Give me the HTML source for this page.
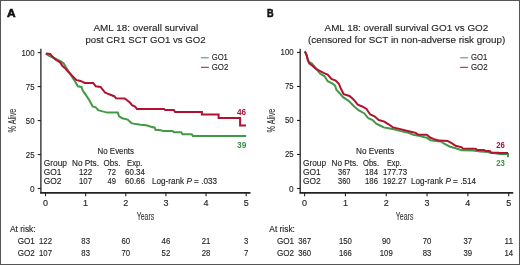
<!DOCTYPE html>
<html><head><meta charset="utf-8"><style>
html,body{margin:0;padding:0;background:#fff;}
svg{display:block;font-family:"Liberation Sans", sans-serif;will-change:transform;}
</style></head><body>
<svg width="520" height="265" viewBox="0 0 520 265">
<rect width="520" height="265" fill="#fff"/>
<rect x="0.5" y="0.5" width="519" height="264" fill="none" stroke="#555" stroke-width="1"/>
<text x="7.00" y="16.70" font-size="11.4" fill="#111" font-weight="bold" textLength="8.60" lengthAdjust="spacingAndGlyphs" stroke="#111" stroke-width="0.6" >A</text>
<text x="267.00" y="16.70" font-size="11.4" fill="#111" font-weight="bold" textLength="6.60" lengthAdjust="spacingAndGlyphs" stroke="#111" stroke-width="0.6" >B</text>
<text x="93.50" y="31.00" font-size="9.7" fill="#262626" font-weight="normal" textLength="104.70" lengthAdjust="spacingAndGlyphs" stroke="#262626" stroke-width="0.14" >AML 18: overall survival</text>
<text x="85.50" y="42.70" font-size="9.7" fill="#262626" font-weight="normal" textLength="120.00" lengthAdjust="spacingAndGlyphs" stroke="#262626" stroke-width="0.14" >post CR1 SCT GO1 vs GO2</text>
<text x="324.60" y="31.00" font-size="9.7" fill="#262626" font-weight="normal" textLength="163.60" lengthAdjust="spacingAndGlyphs" stroke="#262626" stroke-width="0.14" >AML 18: overall survival GO1 vs GO2</text>
<text x="308.00" y="42.70" font-size="9.7" fill="#262626" font-weight="normal" textLength="197.20" lengthAdjust="spacingAndGlyphs" stroke="#262626" stroke-width="0.14" >(censored for SCT in non-adverse risk group)</text>
<line x1="40.9" y1="48.8" x2="40.9" y2="193.60000000000002" stroke="#222" stroke-width="1.3"/>
<line x1="40.3" y1="192.8" x2="250.5" y2="192.8" stroke="#222" stroke-width="1.8"/>
<line x1="37.699999999999996" y1="52.6" x2="40.9" y2="52.6" stroke="#222" stroke-width="1.1"/>
<text x="21.50" y="55.60" font-size="8.7" fill="#262626" font-weight="normal" textLength="13.00" lengthAdjust="spacingAndGlyphs" stroke="#262626" stroke-width="0.14" >100</text>
<line x1="37.699999999999996" y1="86.575" x2="40.9" y2="86.575" stroke="#222" stroke-width="1.1"/>
<text x="25.80" y="89.58" font-size="8.7" fill="#262626" font-weight="normal" textLength="8.70" lengthAdjust="spacingAndGlyphs" stroke="#262626" stroke-width="0.14" >75</text>
<line x1="37.699999999999996" y1="120.55000000000001" x2="40.9" y2="120.55000000000001" stroke="#222" stroke-width="1.1"/>
<text x="25.80" y="123.55" font-size="8.7" fill="#262626" font-weight="normal" textLength="8.70" lengthAdjust="spacingAndGlyphs" stroke="#262626" stroke-width="0.14" >50</text>
<line x1="37.699999999999996" y1="154.525" x2="40.9" y2="154.525" stroke="#222" stroke-width="1.1"/>
<text x="25.80" y="157.53" font-size="8.7" fill="#262626" font-weight="normal" textLength="8.70" lengthAdjust="spacingAndGlyphs" stroke="#262626" stroke-width="0.14" >25</text>
<line x1="37.699999999999996" y1="188.5" x2="40.9" y2="188.5" stroke="#222" stroke-width="1.1"/>
<text x="29.90" y="191.50" font-size="8.7" fill="#262626" font-weight="normal" textLength="4.60" lengthAdjust="spacingAndGlyphs" stroke="#262626" stroke-width="0.14" >0</text>
<line x1="45.5" y1="192.8" x2="45.5" y2="196.20000000000002" stroke="#222" stroke-width="1.1"/>
<text x="43.00" y="206.00" font-size="8.7" fill="#262626" font-weight="normal" textLength="5.00" lengthAdjust="spacingAndGlyphs" stroke="#262626" stroke-width="0.14" >0</text>
<line x1="85.64" y1="192.8" x2="85.64" y2="196.20000000000002" stroke="#222" stroke-width="1.1"/>
<text x="83.14" y="206.00" font-size="8.7" fill="#262626" font-weight="normal" textLength="5.00" lengthAdjust="spacingAndGlyphs" stroke="#262626" stroke-width="0.14" >1</text>
<line x1="125.78" y1="192.8" x2="125.78" y2="196.20000000000002" stroke="#222" stroke-width="1.1"/>
<text x="123.28" y="206.00" font-size="8.7" fill="#262626" font-weight="normal" textLength="5.00" lengthAdjust="spacingAndGlyphs" stroke="#262626" stroke-width="0.14" >2</text>
<line x1="165.92000000000002" y1="192.8" x2="165.92000000000002" y2="196.20000000000002" stroke="#222" stroke-width="1.1"/>
<text x="163.42" y="206.00" font-size="8.7" fill="#262626" font-weight="normal" textLength="5.00" lengthAdjust="spacingAndGlyphs" stroke="#262626" stroke-width="0.14" >3</text>
<line x1="206.06" y1="192.8" x2="206.06" y2="196.20000000000002" stroke="#222" stroke-width="1.1"/>
<text x="203.56" y="206.00" font-size="8.7" fill="#262626" font-weight="normal" textLength="5.00" lengthAdjust="spacingAndGlyphs" stroke="#262626" stroke-width="0.14" >4</text>
<line x1="246.2" y1="192.8" x2="246.2" y2="196.20000000000002" stroke="#222" stroke-width="1.1"/>
<text x="243.70" y="206.00" font-size="8.7" fill="#262626" font-weight="normal" textLength="5.00" lengthAdjust="spacingAndGlyphs" stroke="#262626" stroke-width="0.14" >5</text>
<text x="136.70" y="219.70" font-size="10.2" fill="#333" font-weight="normal" textLength="17.60" lengthAdjust="spacingAndGlyphs" stroke="#333" stroke-width="0.08" >Years</text>
<line x1="300.2" y1="48.8" x2="300.2" y2="193.60000000000002" stroke="#222" stroke-width="1.3"/>
<line x1="299.59999999999997" y1="192.8" x2="513.2" y2="192.8" stroke="#222" stroke-width="1.8"/>
<line x1="297.0" y1="52.4" x2="300.2" y2="52.4" stroke="#222" stroke-width="1.1"/>
<text x="280.60" y="55.40" font-size="8.7" fill="#262626" font-weight="normal" textLength="13.00" lengthAdjust="spacingAndGlyphs" stroke="#262626" stroke-width="0.14" >100</text>
<line x1="297.0" y1="86.425" x2="300.2" y2="86.425" stroke="#222" stroke-width="1.1"/>
<text x="284.90" y="89.42" font-size="8.7" fill="#262626" font-weight="normal" textLength="8.70" lengthAdjust="spacingAndGlyphs" stroke="#262626" stroke-width="0.14" >75</text>
<line x1="297.0" y1="120.44999999999999" x2="300.2" y2="120.44999999999999" stroke="#222" stroke-width="1.1"/>
<text x="284.90" y="123.45" font-size="8.7" fill="#262626" font-weight="normal" textLength="8.70" lengthAdjust="spacingAndGlyphs" stroke="#262626" stroke-width="0.14" >50</text>
<line x1="297.0" y1="154.475" x2="300.2" y2="154.475" stroke="#222" stroke-width="1.1"/>
<text x="284.90" y="157.47" font-size="8.7" fill="#262626" font-weight="normal" textLength="8.70" lengthAdjust="spacingAndGlyphs" stroke="#262626" stroke-width="0.14" >25</text>
<line x1="297.0" y1="188.5" x2="300.2" y2="188.5" stroke="#222" stroke-width="1.1"/>
<text x="289.00" y="191.50" font-size="8.7" fill="#262626" font-weight="normal" textLength="4.60" lengthAdjust="spacingAndGlyphs" stroke="#262626" stroke-width="0.14" >0</text>
<line x1="304.6" y1="192.8" x2="304.6" y2="196.20000000000002" stroke="#222" stroke-width="1.1"/>
<text x="302.10" y="206.00" font-size="8.7" fill="#262626" font-weight="normal" textLength="5.00" lengthAdjust="spacingAndGlyphs" stroke="#262626" stroke-width="0.14" >0</text>
<line x1="345.42" y1="192.8" x2="345.42" y2="196.20000000000002" stroke="#222" stroke-width="1.1"/>
<text x="342.92" y="206.00" font-size="8.7" fill="#262626" font-weight="normal" textLength="5.00" lengthAdjust="spacingAndGlyphs" stroke="#262626" stroke-width="0.14" >1</text>
<line x1="386.24" y1="192.8" x2="386.24" y2="196.20000000000002" stroke="#222" stroke-width="1.1"/>
<text x="383.74" y="206.00" font-size="8.7" fill="#262626" font-weight="normal" textLength="5.00" lengthAdjust="spacingAndGlyphs" stroke="#262626" stroke-width="0.14" >2</text>
<line x1="427.06000000000006" y1="192.8" x2="427.06000000000006" y2="196.20000000000002" stroke="#222" stroke-width="1.1"/>
<text x="424.56" y="206.00" font-size="8.7" fill="#262626" font-weight="normal" textLength="5.00" lengthAdjust="spacingAndGlyphs" stroke="#262626" stroke-width="0.14" >3</text>
<line x1="467.88" y1="192.8" x2="467.88" y2="196.20000000000002" stroke="#222" stroke-width="1.1"/>
<text x="465.38" y="206.00" font-size="8.7" fill="#262626" font-weight="normal" textLength="5.00" lengthAdjust="spacingAndGlyphs" stroke="#262626" stroke-width="0.14" >4</text>
<line x1="508.70000000000005" y1="192.8" x2="508.70000000000005" y2="196.20000000000002" stroke="#222" stroke-width="1.1"/>
<text x="506.20" y="206.00" font-size="8.7" fill="#262626" font-weight="normal" textLength="5.00" lengthAdjust="spacingAndGlyphs" stroke="#262626" stroke-width="0.14" >5</text>
<text x="395.80" y="219.70" font-size="10.2" fill="#333" font-weight="normal" textLength="17.60" lengthAdjust="spacingAndGlyphs" stroke="#333" stroke-width="0.08" >Years</text>
<text transform="translate(15.50,132.4) rotate(-90)" x="0" y="0" font-size="10.5" fill="#333" textLength="23.8" lengthAdjust="spacingAndGlyphs" stroke="#333" stroke-width="0.08">% Alive</text>
<text transform="translate(275.10,132.4) rotate(-90)" x="0" y="0" font-size="10.5" fill="#333" textLength="23.8" lengthAdjust="spacingAndGlyphs" stroke="#333" stroke-width="0.08">% Alive</text>
<line x1="200.9" y1="57.8" x2="208.8" y2="57.8" stroke="#419a46" stroke-width="1.0"/>
<line x1="200.9" y1="67.3" x2="208.8" y2="67.3" stroke="#b0122f" stroke-width="1.0"/>
<text x="211.70" y="59.60" font-size="8.6" fill="#262626" font-weight="normal" textLength="16.20" lengthAdjust="spacingAndGlyphs" stroke="#262626" stroke-width="0.14" >GO1</text>
<text x="211.70" y="69.50" font-size="8.6" fill="#262626" font-weight="normal" textLength="16.60" lengthAdjust="spacingAndGlyphs" stroke="#262626" stroke-width="0.14" >GO2</text>
<line x1="460.20000000000005" y1="57.8" x2="468.1" y2="57.8" stroke="#419a46" stroke-width="1.0"/>
<line x1="460.20000000000005" y1="67.3" x2="468.1" y2="67.3" stroke="#b0122f" stroke-width="1.0"/>
<text x="471.00" y="59.60" font-size="8.6" fill="#262626" font-weight="normal" textLength="16.20" lengthAdjust="spacingAndGlyphs" stroke="#262626" stroke-width="0.14" >GO1</text>
<text x="471.00" y="69.50" font-size="8.6" fill="#262626" font-weight="normal" textLength="16.60" lengthAdjust="spacingAndGlyphs" stroke="#262626" stroke-width="0.14" >GO2</text>
<text x="97.60" y="154.00" font-size="8.7" fill="#262626" font-weight="normal" textLength="36.40" lengthAdjust="spacingAndGlyphs" stroke="#262626" stroke-width="0.14" >No Events</text>
<text x="43.70" y="166.20" font-size="8.7" fill="#262626" font-weight="normal" textLength="23.30" lengthAdjust="spacingAndGlyphs" stroke="#262626" stroke-width="0.14" >Group</text>
<text x="72.00" y="166.20" font-size="8.7" fill="#262626" font-weight="normal" textLength="27.00" lengthAdjust="spacingAndGlyphs" stroke="#262626" stroke-width="0.14" >No Pts.</text>
<text x="103.60" y="166.20" font-size="8.7" fill="#262626" font-weight="normal" textLength="16.80" lengthAdjust="spacingAndGlyphs" stroke="#262626" stroke-width="0.14" >Obs.</text>
<text x="127.00" y="166.20" font-size="8.7" fill="#262626" font-weight="normal" textLength="15.40" lengthAdjust="spacingAndGlyphs" stroke="#262626" stroke-width="0.14" >Exp.</text>
<text x="43.70" y="175.10" font-size="8.7" fill="#262626" font-weight="normal" textLength="17.80" lengthAdjust="spacingAndGlyphs" stroke="#262626" stroke-width="0.14" >GO1</text>
<text x="79.00" y="175.10" font-size="8.7" fill="#262626" font-weight="normal" textLength="13.00" lengthAdjust="spacingAndGlyphs" stroke="#262626" stroke-width="0.14" >122</text>
<text x="107.60" y="175.10" font-size="8.7" fill="#262626" font-weight="normal" textLength="8.40" lengthAdjust="spacingAndGlyphs" stroke="#262626" stroke-width="0.14" >72</text>
<text x="125.00" y="175.10" font-size="8.7" fill="#262626" font-weight="normal" textLength="20.00" lengthAdjust="spacingAndGlyphs" stroke="#262626" stroke-width="0.14" >60.34</text>
<text x="43.70" y="184.10" font-size="8.7" fill="#262626" font-weight="normal" textLength="17.80" lengthAdjust="spacingAndGlyphs" stroke="#262626" stroke-width="0.14" >GO2</text>
<text x="79.00" y="184.10" font-size="8.7" fill="#262626" font-weight="normal" textLength="13.00" lengthAdjust="spacingAndGlyphs" stroke="#262626" stroke-width="0.14" >107</text>
<text x="107.60" y="184.10" font-size="8.7" fill="#262626" font-weight="normal" textLength="8.40" lengthAdjust="spacingAndGlyphs" stroke="#262626" stroke-width="0.14" >49</text>
<text x="125.00" y="184.10" font-size="8.7" fill="#262626" font-weight="normal" textLength="20.00" lengthAdjust="spacingAndGlyphs" stroke="#262626" stroke-width="0.14" >60.66</text>
<text x="152" y="184.1" font-size="8.7" fill="#262626" textLength="65" lengthAdjust="spacingAndGlyphs" stroke="#262626" stroke-width="0.14">Log-rank <tspan font-style="italic">P</tspan> = .033</text>
<text x="356.00" y="154.00" font-size="8.7" fill="#262626" font-weight="normal" textLength="38.00" lengthAdjust="spacingAndGlyphs" stroke="#262626" stroke-width="0.14" >No Events</text>
<text x="303.00" y="166.20" font-size="8.7" fill="#262626" font-weight="normal" textLength="23.00" lengthAdjust="spacingAndGlyphs" stroke="#262626" stroke-width="0.14" >Group</text>
<text x="331.60" y="166.20" font-size="8.7" fill="#262626" font-weight="normal" textLength="26.80" lengthAdjust="spacingAndGlyphs" stroke="#262626" stroke-width="0.14" >No Pts.</text>
<text x="363.00" y="166.20" font-size="8.7" fill="#262626" font-weight="normal" textLength="16.00" lengthAdjust="spacingAndGlyphs" stroke="#262626" stroke-width="0.14" >Obs.</text>
<text x="387.00" y="166.20" font-size="8.7" fill="#262626" font-weight="normal" textLength="14.60" lengthAdjust="spacingAndGlyphs" stroke="#262626" stroke-width="0.14" >Exp.</text>
<text x="303.00" y="175.10" font-size="8.7" fill="#262626" font-weight="normal" textLength="17.80" lengthAdjust="spacingAndGlyphs" stroke="#262626" stroke-width="0.14" >GO1</text>
<text x="338.00" y="175.10" font-size="8.7" fill="#262626" font-weight="normal" textLength="12.40" lengthAdjust="spacingAndGlyphs" stroke="#262626" stroke-width="0.14" >367</text>
<text x="365.00" y="175.10" font-size="8.7" fill="#262626" font-weight="normal" textLength="13.00" lengthAdjust="spacingAndGlyphs" stroke="#262626" stroke-width="0.14" >184</text>
<text x="383.00" y="175.10" font-size="8.7" fill="#262626" font-weight="normal" textLength="24.00" lengthAdjust="spacingAndGlyphs" stroke="#262626" stroke-width="0.14" >177.73</text>
<text x="303.00" y="184.10" font-size="8.7" fill="#262626" font-weight="normal" textLength="17.80" lengthAdjust="spacingAndGlyphs" stroke="#262626" stroke-width="0.14" >GO2</text>
<text x="338.00" y="184.10" font-size="8.7" fill="#262626" font-weight="normal" textLength="12.40" lengthAdjust="spacingAndGlyphs" stroke="#262626" stroke-width="0.14" >360</text>
<text x="365.00" y="184.10" font-size="8.7" fill="#262626" font-weight="normal" textLength="13.00" lengthAdjust="spacingAndGlyphs" stroke="#262626" stroke-width="0.14" >186</text>
<text x="383.00" y="184.10" font-size="8.7" fill="#262626" font-weight="normal" textLength="23.40" lengthAdjust="spacingAndGlyphs" stroke="#262626" stroke-width="0.14" >192.27</text>
<text x="411" y="184.1" font-size="8.7" fill="#262626" textLength="65" lengthAdjust="spacingAndGlyphs" stroke="#262626" stroke-width="0.14">Log-rank <tspan font-style="italic">P</tspan> = .514</text>
<text x="236.90" y="114.50" font-size="8.8" fill="#a31434" font-weight="bold" textLength="9.10" lengthAdjust="spacingAndGlyphs" >46</text>
<text x="237.00" y="147.70" font-size="8.8" fill="#3d8f48" font-weight="bold" textLength="9.30" lengthAdjust="spacingAndGlyphs" >39</text>
<text x="496.20" y="147.70" font-size="8.8" fill="#a31434" font-weight="bold" textLength="8.60" lengthAdjust="spacingAndGlyphs" >26</text>
<text x="496.30" y="165.80" font-size="8.8" fill="#3d8f48" font-weight="bold" textLength="8.60" lengthAdjust="spacingAndGlyphs" >23</text>
<text x="10.00" y="231.80" font-size="8.7" fill="#262626" font-weight="normal" textLength="25.60" lengthAdjust="spacingAndGlyphs" stroke="#262626" stroke-width="0.14" >At risk:</text>
<text x="17.70" y="243.90" font-size="8.7" fill="#262626" font-weight="normal" textLength="17.10" lengthAdjust="spacingAndGlyphs" stroke="#262626" stroke-width="0.14" >GO1</text>
<text x="17.70" y="255.60" font-size="8.7" fill="#262626" font-weight="normal" textLength="17.10" lengthAdjust="spacingAndGlyphs" stroke="#262626" stroke-width="0.14" >GO2</text>
<text x="39.05" y="243.90" font-size="8.7" fill="#262626" font-weight="normal" textLength="12.90" lengthAdjust="spacingAndGlyphs" stroke="#262626" stroke-width="0.14" >122</text>
<text x="39.05" y="255.60" font-size="8.7" fill="#262626" font-weight="normal" textLength="12.90" lengthAdjust="spacingAndGlyphs" stroke="#262626" stroke-width="0.14" >107</text>
<text x="81.34" y="243.90" font-size="8.7" fill="#262626" font-weight="normal" textLength="8.60" lengthAdjust="spacingAndGlyphs" stroke="#262626" stroke-width="0.14" >83</text>
<text x="81.34" y="255.60" font-size="8.7" fill="#262626" font-weight="normal" textLength="8.60" lengthAdjust="spacingAndGlyphs" stroke="#262626" stroke-width="0.14" >83</text>
<text x="121.48" y="243.90" font-size="8.7" fill="#262626" font-weight="normal" textLength="8.60" lengthAdjust="spacingAndGlyphs" stroke="#262626" stroke-width="0.14" >60</text>
<text x="121.48" y="255.60" font-size="8.7" fill="#262626" font-weight="normal" textLength="8.60" lengthAdjust="spacingAndGlyphs" stroke="#262626" stroke-width="0.14" >70</text>
<text x="161.62" y="243.90" font-size="8.7" fill="#262626" font-weight="normal" textLength="8.60" lengthAdjust="spacingAndGlyphs" stroke="#262626" stroke-width="0.14" >46</text>
<text x="161.62" y="255.60" font-size="8.7" fill="#262626" font-weight="normal" textLength="8.60" lengthAdjust="spacingAndGlyphs" stroke="#262626" stroke-width="0.14" >52</text>
<text x="201.76" y="243.90" font-size="8.7" fill="#262626" font-weight="normal" textLength="8.60" lengthAdjust="spacingAndGlyphs" stroke="#262626" stroke-width="0.14" >21</text>
<text x="201.76" y="255.60" font-size="8.7" fill="#262626" font-weight="normal" textLength="8.60" lengthAdjust="spacingAndGlyphs" stroke="#262626" stroke-width="0.14" >28</text>
<text x="244.05" y="243.90" font-size="8.7" fill="#262626" font-weight="normal" textLength="4.30" lengthAdjust="spacingAndGlyphs" stroke="#262626" stroke-width="0.14" >3</text>
<text x="244.05" y="255.60" font-size="8.7" fill="#262626" font-weight="normal" textLength="4.30" lengthAdjust="spacingAndGlyphs" stroke="#262626" stroke-width="0.14" >7</text>
<text x="269.30" y="231.80" font-size="8.7" fill="#262626" font-weight="normal" textLength="25.60" lengthAdjust="spacingAndGlyphs" stroke="#262626" stroke-width="0.14" >At risk:</text>
<text x="277.00" y="243.90" font-size="8.7" fill="#262626" font-weight="normal" textLength="17.10" lengthAdjust="spacingAndGlyphs" stroke="#262626" stroke-width="0.14" >GO1</text>
<text x="277.00" y="255.60" font-size="8.7" fill="#262626" font-weight="normal" textLength="17.10" lengthAdjust="spacingAndGlyphs" stroke="#262626" stroke-width="0.14" >GO2</text>
<text x="298.15" y="243.90" font-size="8.7" fill="#262626" font-weight="normal" textLength="12.90" lengthAdjust="spacingAndGlyphs" stroke="#262626" stroke-width="0.14" >367</text>
<text x="298.15" y="255.60" font-size="8.7" fill="#262626" font-weight="normal" textLength="12.90" lengthAdjust="spacingAndGlyphs" stroke="#262626" stroke-width="0.14" >360</text>
<text x="338.97" y="243.90" font-size="8.7" fill="#262626" font-weight="normal" textLength="12.90" lengthAdjust="spacingAndGlyphs" stroke="#262626" stroke-width="0.14" >150</text>
<text x="338.97" y="255.60" font-size="8.7" fill="#262626" font-weight="normal" textLength="12.90" lengthAdjust="spacingAndGlyphs" stroke="#262626" stroke-width="0.14" >166</text>
<text x="381.94" y="243.90" font-size="8.7" fill="#262626" font-weight="normal" textLength="8.60" lengthAdjust="spacingAndGlyphs" stroke="#262626" stroke-width="0.14" >90</text>
<text x="379.79" y="255.60" font-size="8.7" fill="#262626" font-weight="normal" textLength="12.90" lengthAdjust="spacingAndGlyphs" stroke="#262626" stroke-width="0.14" >109</text>
<text x="422.76" y="243.90" font-size="8.7" fill="#262626" font-weight="normal" textLength="8.60" lengthAdjust="spacingAndGlyphs" stroke="#262626" stroke-width="0.14" >70</text>
<text x="422.76" y="255.60" font-size="8.7" fill="#262626" font-weight="normal" textLength="8.60" lengthAdjust="spacingAndGlyphs" stroke="#262626" stroke-width="0.14" >83</text>
<text x="463.58" y="243.90" font-size="8.7" fill="#262626" font-weight="normal" textLength="8.60" lengthAdjust="spacingAndGlyphs" stroke="#262626" stroke-width="0.14" >37</text>
<text x="463.58" y="255.60" font-size="8.7" fill="#262626" font-weight="normal" textLength="8.60" lengthAdjust="spacingAndGlyphs" stroke="#262626" stroke-width="0.14" >39</text>
<text x="504.40" y="243.90" font-size="8.7" fill="#262626" font-weight="normal" textLength="8.60" lengthAdjust="spacingAndGlyphs" stroke="#262626" stroke-width="0.14" >11</text>
<text x="504.40" y="255.60" font-size="8.7" fill="#262626" font-weight="normal" textLength="8.60" lengthAdjust="spacingAndGlyphs" stroke="#262626" stroke-width="0.14" >14</text>
<polyline points="45.80,53.40 48.30,55.50 55.00,58.50 61.20,61.70 63.70,63.50 65.50,66.60 68.00,70.50 71.00,75.20 75.40,82.00 77.80,86.30 81.50,86.90 82.80,90.60 85.80,94.90 89.50,100.50 92.60,106.50 95.70,107.30 98.20,110.20 102.50,111.40 107.40,112.60 117.80,112.60 119.10,116.30 122.20,118.20 127.70,119.60 131.40,123.10 135.70,124.10 140.60,124.80 146.20,125.20 151.10,126.80 154.80,127.70 155.40,129.80 160.90,130.20 163.40,131.10 172.60,131.10 173.80,132.20 181.20,132.20 182.50,134.20 191.70,134.20 192.90,135.90 246.20,135.90" fill="none" stroke="#419a46" stroke-width="2.0" stroke-linejoin="miter"/>
<polyline points="45.80,53.40 50.20,53.90 52.60,56.80 55.70,59.80 58.20,61.10 60.00,62.30 62.50,66.00 65.50,68.50 68.00,71.50 70.50,74.00 73.50,77.10 76.60,80.20 79.70,80.80 82.20,81.60 84.60,82.90 93.20,82.90 95.70,86.30 100.60,86.90 103.10,90.00 104.90,92.50 109.20,94.30 114.20,96.20 116.00,98.20 124.60,98.50 127.10,100.30 130.20,102.80 132.00,105.20 135.10,106.50 136.90,108.90 164.00,108.90 165.20,110.10 173.80,110.10 175.10,111.90 201.90,111.90 201.90,114.50 218.60,114.50 218.60,118.00 240.10,118.00 240.10,125.50 246.00,125.50" fill="none" stroke="#b0122f" stroke-width="2.0" stroke-linejoin="miter"/>
<polyline points="304.90,51.40 307.00,57.00 309.00,62.00 311.70,63.40 316.00,68.50 320.30,73.80 324.60,76.30 327.70,81.20 332.60,83.70 335.10,85.50 336.30,89.80 340.00,93.50 343.10,97.20 348.60,100.90 354.20,106.50 358.50,110.20 364.00,113.20 368.30,118.20 372.60,120.00 376.30,123.70 380.00,125.50 383.70,127.40 389.80,128.60 396.00,129.80 400.90,131.10 408.30,132.90 413.20,134.80 416.90,135.40 421.80,136.60 426.80,137.80 430.50,140.30 435.40,140.90 440.90,141.50 444.60,144.00 449.50,146.50 455.70,148.30 461.80,150.20 472.90,150.50 480.30,151.40 487.70,152.00 490.00,152.60 499.70,154.00 508.00,154.00 508.00,157.20" fill="none" stroke="#419a46" stroke-width="2.0" stroke-linejoin="miter"/>
<polyline points="304.90,51.40 306.80,55.40 307.60,59.70 309.20,63.40 312.30,65.80 316.00,68.90 319.70,70.80 324.00,73.20 327.70,74.50 331.40,78.80 335.70,80.60 338.80,83.70 340.60,88.00 343.70,94.20 349.50,96.00 353.50,99.40 357.80,104.60 362.20,106.50 366.50,108.90 370.20,114.50 374.50,116.30 378.80,120.00 384.30,121.60 388.60,124.30 392.90,127.40 398.50,128.60 404.60,130.20 410.80,131.70 415.70,132.90 418.20,134.80 426.80,134.80 430.50,137.80 434.20,139.10 439.10,140.60 447.70,140.90 452.00,143.40 455.70,145.80 461.80,147.40 463.10,148.70 475.70,148.70 477.10,149.90 484.00,149.90 485.40,150.80 490.00,151.20 490.90,152.80 498.80,152.80 499.70,153.10 508.00,153.10" fill="none" stroke="#b0122f" stroke-width="2.0" stroke-linejoin="miter"/>
</svg>
</body></html>
